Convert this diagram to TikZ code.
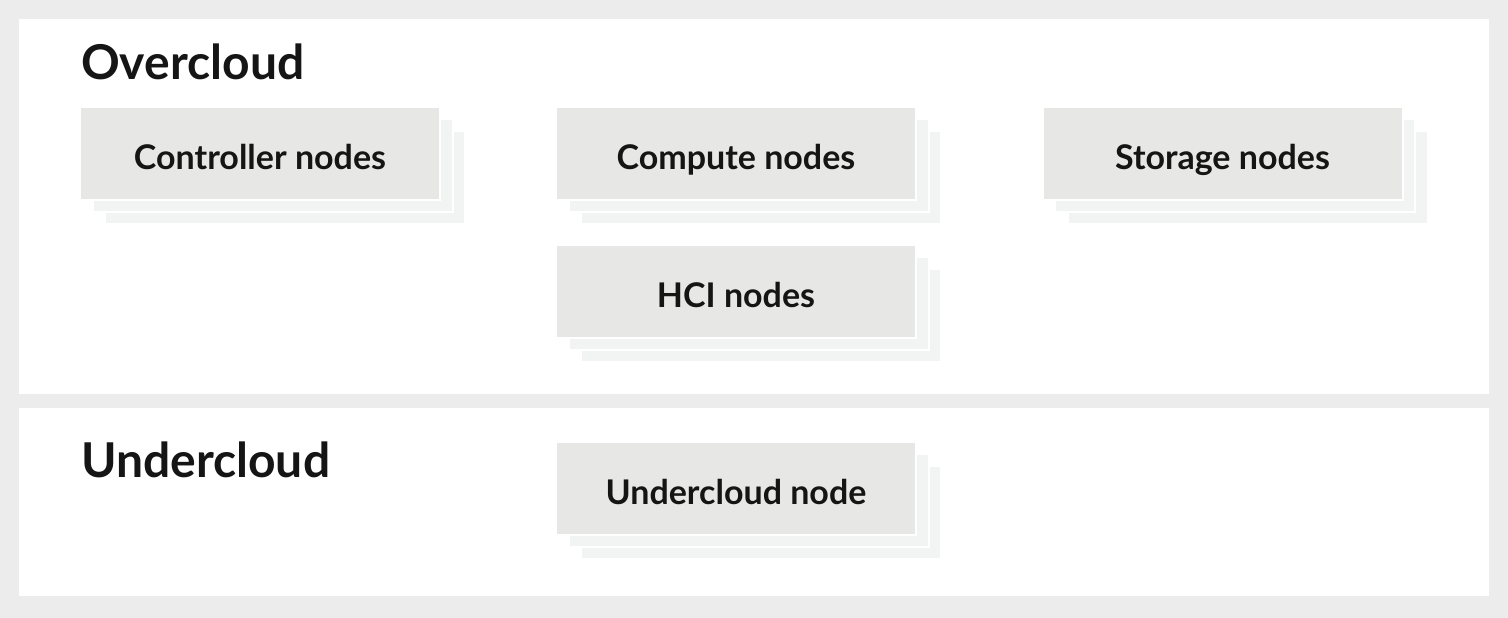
\documentclass[tikz,border=0pt]{standalone}
\usepackage{fontspec}
\setmainfont{Lato}
\usepackage{xcolor}
\usepackage{tikz}
\usetikzlibrary{shadows}
\definecolor{pagegray}{HTML}{ECECEC}
\definecolor{boxgray}{HTML}{E7E7E5}
\definecolor{backgray}{HTML}{F2F3F3}
\definecolor{inkblack}{HTML}{151515}
\tikzset{
    layer/.style = {fill=white, draw=none},
    title/.style = {anchor=base west, inner sep=0pt, text=inkblack,
                    font=\fontsize{48}{54}\selectfont\bfseries},
    stackbox/.style = {rectangle, fill=boxgray, draw=white, line width=2pt,
                       minimum width=360pt, minimum height=93pt,
                       text height=34pt, text depth=2pt,
                       text=inkblack, font=\fontsize{34}{40}\selectfont\bfseries,
                       double copy shadow={shadow xshift=12.5pt, shadow yshift=-12pt,
                                           fill=backgray, draw=white, line width=2pt}},
}

\begin{document}
\begin{tikzpicture}[x=1pt,y=-1pt]
    \fill[pagegray] (0,0) rectangle (1508,618);
    \useasboundingbox (0,0) rectangle (1508,618);
    \fill[layer] (19,19) rectangle (1489,394);
    \fill[layer] (19,408) rectangle (1489,596);
    \node (over) at (81,80) [title] {Overcloud};
    \node (under) at (81,477) [title] {Undercloud};
    \node (ctrl) at (260,153) [stackbox] {Controller nodes};
    \node (comp) at (736,153) [stackbox] {Compute nodes};
    \node (stor) at (1222.5,153) [stackbox] {Storage nodes};
    \node (hci) at (736,291) [stackbox] {HCI nodes};
    \node (ucnode) at (736,488) [stackbox] {Undercloud node};
\end{tikzpicture}
\end{document}
